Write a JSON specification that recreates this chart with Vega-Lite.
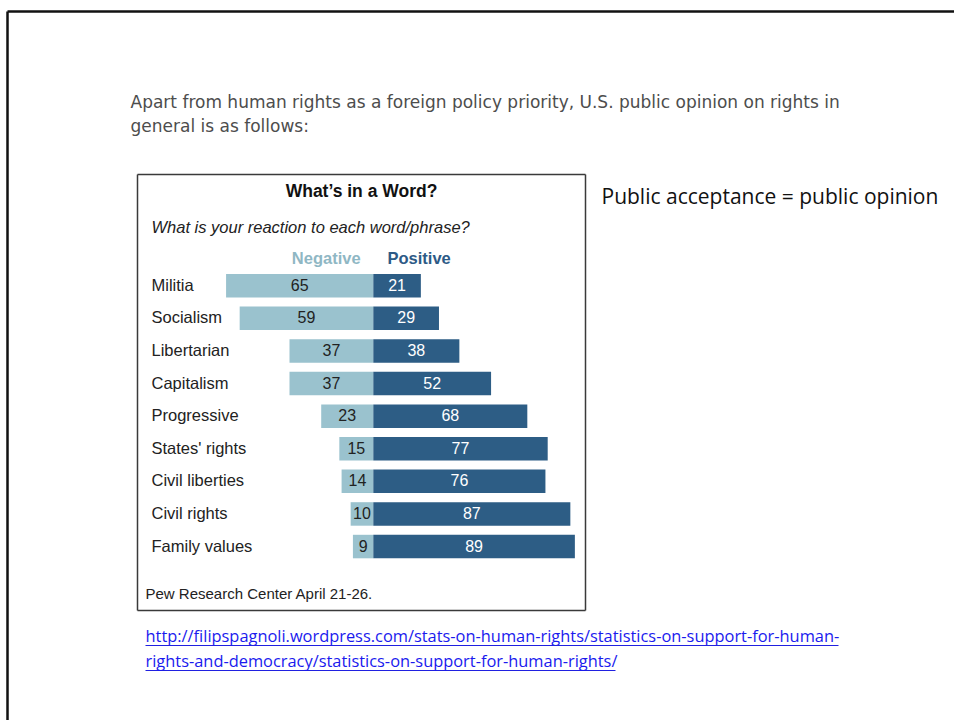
{
  "$schema": "https://vega.github.io/schema/vega-lite/v6.json",
  "width": 954,
  "height": 720,
  "padding": 0,
  "autosize": {"type": "none"},
  "background": "white",
  "config": {
    "view": {"stroke": null},
    "axis": {"grid": false, "ticks": false, "tickSize": 0, "domain": false, "labelFlush": false, "labelOverlap": false, "labelFont": "Liberation Sans", "titleFont": "Liberation Sans", "titlePadding": 0}
  },
  "data": {
    "values": [
      {"word": "Militia", "Negative": 65, "Positive": 21},
      {"word": "Socialism", "Negative": 59, "Positive": 29},
      {"word": "Libertarian", "Negative": 37, "Positive": 38},
      {"word": "Capitalism", "Negative": 37, "Positive": 52},
      {"word": "Progressive", "Negative": 23, "Positive": 68},
      {"word": "States' rights", "Negative": 15, "Positive": 77},
      {"word": "Civil liberties", "Negative": 14, "Positive": 76},
      {"word": "Civil rights", "Negative": 10, "Positive": 87},
      {"word": "Family values", "Negative": 9, "Positive": 89}
    ]
  },
  "layer": [
    {
      "mark": {"type": "bar", "color": "#9ac2ce"},
      "encoding": {
        "y": {
          "field": "word", "type": "nominal",
          "sort": ["Militia", "Socialism", "Libertarian", "Capitalism", "Progressive", "States' rights", "Civil liberties", "Civil rights", "Family values"],
          "scale": {"range": [274, 558.3], "paddingInner": 0.279, "paddingOuter": 0},
          "axis": {
            "orient": "left", "offset": -137,
            "labelAlign": "left", "labelPadding": -14, "labelFontSize": 16.5, "labelColor": "#222222",
            "title": ["Apart from human rights as a foreign policy priority, U.S. public opinion on rights in", "general is as follows:"],
            "titleAngle": 0, "titleAlign": "left", "titleBaseline": "alphabetic", "titleX": -7, "titleY": 107,
            "titleFont": "DejaVu Sans", "titleFontSize": 17, "titleFontWeight": "normal", "titleColor": "#4d4d4d", "titleLineHeight": 24
          }
        },
        "x": {
          "field": "Negative", "type": "quantitative",
          "scale": {"domain": [-93.47, 104.33], "range": [585, 137], "zero": false, "nice": false},
          "axis": {
            "orient": "top", "offset": -174, "domain": true, "domainColor": "#3a3a3a", "domainWidth": 1.5,
            "values": [21], "labelExpr": "'Negative'", "labelFontSize": 16.5, "labelFontWeight": "bold", "labelColor": "#8fb7c4",
            "labelPadding": -84, "labelBaseline": "middle", "labelAlign": "center",
            "title": "What is your reaction to each word/phrase?", "titleFontStyle": "italic", "titleFontWeight": "normal",
            "titleFontSize": 16.5, "titleColor": "#222222", "titleAlign": "left", "titleBaseline": "middle", "titleX": 151, "titleY": 53
          }
        },
        "x2": {"datum": 0}
      }
    },
    {
      "mark": {"type": "bar", "color": "#2d5d85"},
      "encoding": {
        "y": {
          "field": "word", "type": "nominal",
          "sort": ["Militia", "Socialism", "Libertarian", "Capitalism", "Progressive", "States' rights", "Civil liberties", "Civil rights", "Family values"],
          "axis": {
            "orient": "right", "offset": -369, "labels": false,
            "title": "Public acceptance = public opinion", "titleAngle": 0, "titleAlign": "left", "titleBaseline": "middle",
            "titleX": 16, "titleY": 197, "titleFont": "Open Sans", "titleFontSize": 21, "titleFontWeight": "normal", "titleColor": "#111111"
          }
        },
        "x": {
          "field": "Positive", "type": "quantitative",
          "scale": {"domain": [-104.33, 93.47], "range": [137, 585], "zero": false, "nice": false},
          "axis": {
            "orient": "top", "offset": -174,
            "values": [20], "labelExpr": "'Positive'", "labelFontSize": 16.5, "labelFontWeight": "bold", "labelColor": "#2d5a86",
            "labelPadding": -84, "labelBaseline": "middle", "labelAlign": "center",
            "title": "What’s in a Word?", "titleFontSize": 17.5, "titleFontWeight": "bold", "titleColor": "#111111",
            "titleAlign": "center", "titleBaseline": "middle", "titleX": 361, "titleY": 17
          }
        },
        "x2": {"datum": 0}
      }
    },
    {
      "mark": {"type": "text", "font": "Liberation Sans", "fontSize": 16, "color": "#222222", "baseline": "middle", "align": "center"},
      "encoding": {
        "y": {
          "field": "word", "type": "nominal",
          "sort": ["Militia", "Socialism", "Libertarian", "Capitalism", "Progressive", "States' rights", "Civil liberties", "Civil rights", "Family values"],
          "axis": {
            "orient": "left", "offset": -145, "ticks": true, "tickSize": -470, "tickColor": "#2020e0", "tickWidth": 1,
            "values": ["Family values"], "tickOffset": 123.3, "labels": false,
            "title": ["http://filipspagnoli.wordpress.com/stats-on-human-rights/statistics-on-support-for-human-", "rights-and-democracy/statistics-on-support-for-human-rights/"],
            "titleAngle": 0, "titleAlign": "left", "titleBaseline": "alphabetic", "titleX": 0, "titleY": 641,
            "titleFont": "Open Sans", "titleFontSize": 16.4, "titleFontWeight": "normal", "titleColor": "#1a1aee", "titleLineHeight": 25
          }
        },
        "x": {
          "field": "Negative", "type": "quantitative",
          "scale": {"domain": [-186.94, 208.66], "range": [585, 137], "zero": false, "nice": false},
          "axis": {
            "orient": "bottom", "offset": -110, "domain": true, "domainColor": "#3a3a3a", "domainWidth": 1.5,
            "ticks": true, "values": [-186.94, 208.66], "tickSize": -436, "tickWidth": 1.5, "tickColor": "#3a3a3a", "labels": false,
            "title": "Pew Research Center April 21-26.", "titleFontSize": 15, "titleFontWeight": "normal", "titleColor": "#222222",
            "titleAlign": "left", "titleBaseline": "middle", "titleX": 145, "titleY": -17
          }
        },
        "text": {"field": "Negative", "type": "quantitative"}
      }
    },
    {
      "mark": {"type": "text", "font": "Liberation Sans", "fontSize": 16, "color": "#ffffff", "baseline": "middle", "align": "center"},
      "encoding": {
        "y": {
          "field": "word", "type": "nominal",
          "sort": ["Militia", "Socialism", "Libertarian", "Capitalism", "Progressive", "States' rights", "Civil liberties", "Civil rights", "Family values"],
          "axis": {
            "orient": "left", "offset": -145, "ticks": true, "tickSize": -693, "tickColor": "#2020e0", "tickWidth": 1,
            "values": ["Family values"], "tickOffset": 98.3, "labels": false, "title": null
          }
        },
        "x": {
          "field": "Positive", "type": "quantitative",
          "scale": {"domain": [-323.44, 512.76], "range": [7, 954], "zero": false, "nice": false},
          "axis": {
            "orient": "top", "offset": -11, "domain": true, "domainColor": "#111111", "domainWidth": 2.5,
            "ticks": true, "tickSize": -720, "tickWidth": 2.5, "tickColor": "#111111", "values": [-323.44], "labels": false, "title": null
          }
        },
        "text": {"field": "Positive", "type": "quantitative"}
      }
    }
  ],
  "resolve": {"scale": {"x": "independent"}, "axis": {"x": "independent", "y": "independent"}}
}
